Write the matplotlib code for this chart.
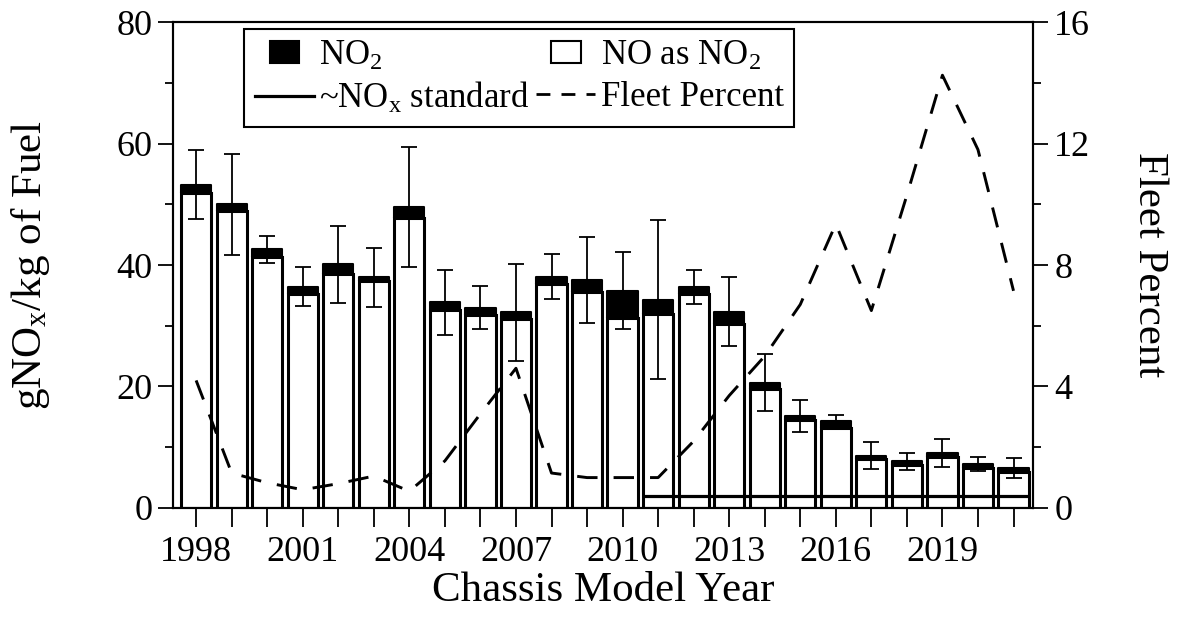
import matplotlib
matplotlib.use("Agg")
import matplotlib.pyplot as plt
from matplotlib.patches import Patch, Rectangle
from matplotlib.lines import Line2D
from matplotlib.legend_handler import HandlerPatch
from matplotlib.ticker import MultipleLocator, FixedLocator
import numpy as np

plt.rcParams['font.family'] = ['Liberation Serif', 'DejaVu Serif']
plt.rcParams['mathtext.fontset'] = 'custom'
plt.rcParams['mathtext.rm'] = 'Liberation Serif'
plt.rcParams['mathtext.it'] = 'Liberation Serif:italic'

years = list(range(1998, 2022))
no_as_no2 = [51.9, 48.9, 41.3, 35.2, 38.5, 37.4, 47.7, 32.6, 31.8, 31.1, 36.8, 35.5,
             31.3, 32.0, 35.25, 30.3, 19.65, 14.4, 13.15, 8.1, 7.0, 8.45, 6.65, 5.85]
no2 = [1.35, 1.1, 1.3, 1.2, 1.6, 0.6, 1.9, 1.25, 1.2, 1.1, 1.3, 2.0,
       4.5, 2.3, 1.1, 2.0, 1.0, 0.8, 1.1, 0.5, 0.7, 0.6, 0.6, 0.7]
err = [5.65, 8.3, 2.2, 3.2, 6.3, 4.85, 9.9, 5.35, 3.6, 8.0, 3.7, 7.05,
       6.35, 13.1, 2.85, 5.7, 4.7, 2.65, 1.1, 2.25, 1.4, 2.3, 1.2, 1.65]
fleet_percent = [4.2, 1.15, 0.83, 0.6, 0.8, 1.05, 0.55, 1.55, 3.1, 4.6, 1.15, 1.0,
                 1.0, 1.0, 2.2, 3.7, 5.0, 6.7, 9.35, 6.5, 10.3, 14.25, 11.8, 7.15]
standard_years = list(range(2011, 2022))
standard_value = 2.0

x = np.array(years)
no_arr = np.array(no_as_no2)
no2_arr = np.array(no2)
total = no_arr + no2_arr
bw = 0.85

fig = plt.figure(figsize=(11.77, 6.31), dpi=100)
ax = fig.add_axes([0.147, 0.195, 0.731, 0.770])

ax.bar(x, no_arr, width=bw, color='white', edgecolor='black', linewidth=2.2, zorder=2)
ax.bar(x, no2_arr, bottom=no_arr, width=bw, color='black', edgecolor='black',
       linewidth=1.5, joinstyle='round', zorder=3)
ax.errorbar(x, total, yerr=np.array(err), fmt='none', ecolor='black', elinewidth=1.3,
            capsize=6, capthick=1.3, zorder=4)
sx = np.array(standard_years)
ax.plot([sx[0] - bw / 2, sx[-1] + bw / 2], [standard_value, standard_value],
        color='black', linewidth=2.3, solid_capstyle='butt', zorder=5)

ax.set_xlim(1997.35, 2021.56)
ax.set_ylim(0, 80)
ax.xaxis.set_major_locator(FixedLocator(years))
ax.set_xticks(years)
ax.set_xticklabels([str(y) if (y - 1998) % 3 == 0 else '' for y in years])
ax.yaxis.set_major_locator(MultipleLocator(20))
ax.yaxis.set_minor_locator(MultipleLocator(10))
ax.tick_params(axis='x', direction='out', length=14, width=1.3, labelsize=26, pad=6)
ax.tick_params(axis='y', which='major', direction='out', length=11, width=1.3, labelsize=26, pad=4)
ax.tick_params(axis='y', which='minor', direction='out', length=6, width=1.3)
for s in ax.spines.values():
    s.set_linewidth(1.5)
ax.set_xlabel('Chassis Model Year', fontsize=31, labelpad=2)
ax.set_ylabel(r'gNO$_\mathrm{x}$/kg of Fuel', fontsize=31, labelpad=46)

ax2 = ax.twinx()
ax2.plot(x, fleet_percent, color='black', linewidth=2.1, dashes=(7, 5.5), zorder=6)
ax2.set_ylim(0, 16)
ax2.yaxis.set_major_locator(MultipleLocator(4))
ax2.yaxis.set_minor_locator(MultipleLocator(2))
ax2.tick_params(axis='y', which='major', direction='out', length=11, width=1.3, labelsize=26, pad=4)
ax2.tick_params(axis='y', which='minor', direction='out', length=6, width=1.3)
for s in ax2.spines.values():
    s.set_linewidth(1.5)
ax2.set_ylabel('Fleet Percent', fontsize=31, rotation=270, labelpad=56)


def small_rect(legend, orig_handle, xdescent, ydescent, width, height, fontsize):
    w = width * 0.5
    h = height * 0.85
    return Rectangle((-xdescent + (width - w) / 2, -ydescent + (height - h) / 2), w, h)


handles = [Patch(facecolor='black', edgecolor='black', linewidth=1.5, label=r'NO$_\mathrm{2}$'),
           Line2D([], [], color='black', linewidth=2.3, label=r'~NO$_\mathrm{x}$ standard'),
           Patch(facecolor='white', edgecolor='black', linewidth=1.5, label=r'NO as NO$_\mathrm{2}$'),
           Line2D([], [], color='black', linewidth=2.0, dashes=(5, 4), label='Fleet Percent')]
leg = ax2.legend(handles=handles, ncol=2, loc='upper left', bbox_to_anchor=(0.083, 0.986),
                 fontsize=25, frameon=True, fancybox=False, edgecolor='black',
                 framealpha=1, borderpad=0.3, handlelength=1.7, handleheight=0.75,
                 handletextpad=0.15, columnspacing=0.2, labelspacing=0.25, borderaxespad=0,
                 handler_map={Patch: HandlerPatch(patch_func=small_rect)})
leg.get_frame().set_linewidth(1.5)

fig.savefig('out.png', dpi=100)
